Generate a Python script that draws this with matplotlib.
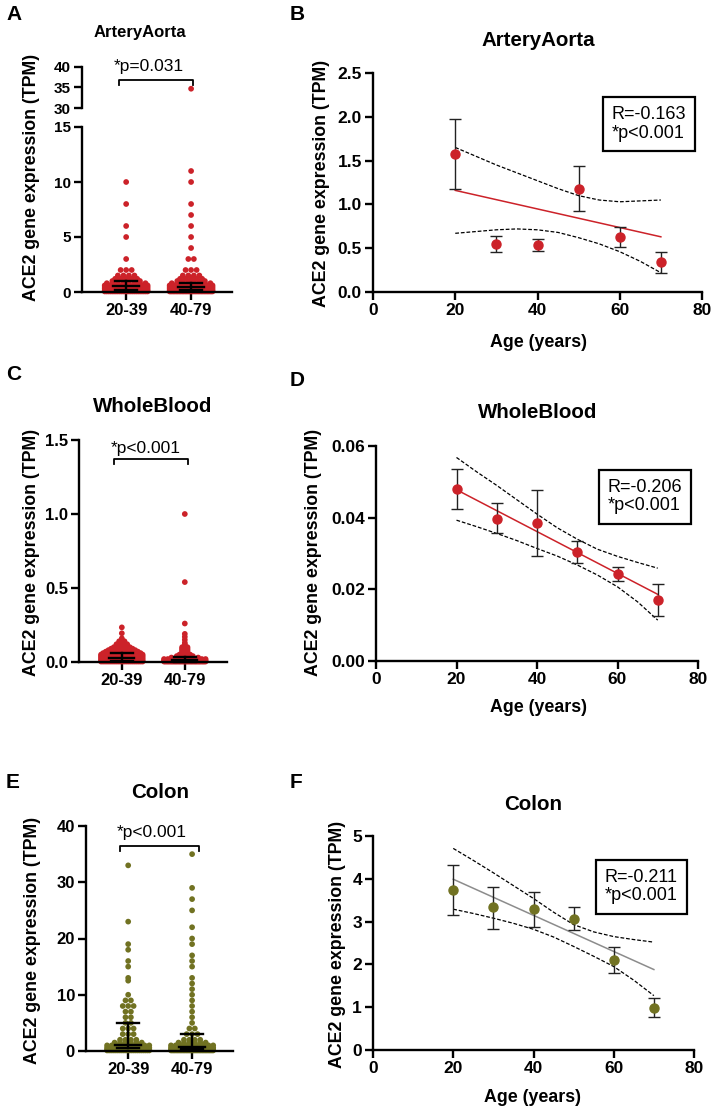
import numpy as np
import matplotlib
matplotlib.use("Agg")
import matplotlib.pyplot as plt

plt.rcParams['font.family'] = ['Liberation Sans', 'DejaVu Sans']

# ── data ────────────────────────────────────────────────────────────────
groups = ['20-39', '40-79']
ages = [20, 30, 40, 50, 60, 70]
band_x = [20, 25, 30, 35, 40, 45, 50, 55, 60, 65, 70]

# A: ArteryAorta scatter (value, count)
aorta_young_vals = [10, 8, 6, 5, 3, 2, 1.5, 1.2, 1.0, 0.8, 0.6, 0.45, 0.3, 0.15, 0.05]
aorta_young_cnt = [1, 1, 1, 1, 1, 3, 4, 5, 6, 8, 10, 14, 18, 22, 24]
aorta_old_vals = [34.7, 11, 10, 8, 7, 6, 5, 4, 3, 2, 1.5, 1.2, 1.0, 0.8, 0.6, 0.45, 0.3, 0.15, 0.05]
aorta_old_cnt = [1, 1, 1, 1, 1, 1, 1, 1, 2, 3, 4, 5, 6, 8, 10, 14, 20, 26, 30]
aorta_q = [(0.15, 0.58, 1.03), (0.15, 0.45, 0.82)]

# C: WholeBlood scatter
blood_young_vals = [0.234, 0.194, 0.16, 0.15, 0.14, 0.13, 0.12, 0.11, 0.10, 0.09, 0.08, 0.07,
                    0.06, 0.05, 0.04, 0.03, 0.02, 0.01, 0.003]
blood_young_cnt = [1, 1, 1, 1, 2, 2, 3, 3, 4, 5, 6, 7, 8, 9, 10, 12, 16, 20, 22]
blood_old_vals = [1.0, 0.54, 0.26, 0.19, 0.17, 0.15, 0.13, 0.12, 0.11, 0.10, 0.09, 0.08, 0.07,
                  0.06, 0.05, 0.04, 0.03, 0.02, 0.01, 0.003]
blood_old_cnt = [1, 1, 1, 1, 1, 1, 1, 1, 1, 2, 2, 2, 2, 2, 3, 4, 6, 12, 24, 32]
blood_q = [(0.009, 0.03, 0.063), (0.002, 0.015, 0.032)]

# E: Colon scatter
colon_young_vals = [33, 23, 19, 18, 16, 15, 13, 12.5, 10, 9, 8, 7, 6, 5, 4, 3, 2, 1.5, 1.0, 0.6, 0.3, 0.1]
colon_young_cnt = [1, 1, 1, 1, 1, 1, 1, 1, 1, 2, 3, 2, 2, 2, 3, 3, 4, 6, 10, 14, 18, 22]
colon_old_vals = [35, 29, 27, 25, 22, 20, 19, 17, 16, 15, 13, 12, 11, 10, 9, 8, 7, 6, 5, 4, 3,
                  2, 1.5, 1.0, 0.6, 0.3, 0.1]
colon_old_cnt = [1, 1, 1, 1, 1, 1, 1, 1, 1, 1, 1, 1, 1, 1, 1, 1, 1, 1, 1, 2, 3, 4, 6, 10, 16, 24, 30]
colon_q = [(0.45, 1.0, 5.03), (0.3, 0.7, 3.08)]

# B: ArteryAorta by age
aorta_mean = [1.58, 0.55, 0.54, 1.18, 0.63, 0.34]
aorta_lo = [1.18, 0.46, 0.47, 0.92, 0.51, 0.22]
aorta_hi = [1.97, 0.64, 0.61, 1.44, 0.74, 0.46]
aorta_fit = [1.16, 0.63]
aorta_ci_up = [1.65, 1.55, 1.45, 1.36, 1.27, 1.18, 1.10, 1.05, 1.03, 1.04, 1.05]
aorta_ci_dn = [0.67, 0.69, 0.71, 0.72, 0.71, 0.68, 0.62, 0.55, 0.46, 0.35, 0.22]

# D: WholeBlood by age
blood_mean = [0.0479, 0.0397, 0.0385, 0.0304, 0.0244, 0.0170]
blood_lo = [0.0423, 0.0356, 0.0294, 0.0274, 0.0223, 0.0126]
blood_hi = [0.0536, 0.0440, 0.0477, 0.0336, 0.0261, 0.0216]
blood_fit = [0.0478, 0.0186]
blood_ci_up = [0.0568, 0.0528, 0.0490, 0.0450, 0.0410, 0.0372, 0.0340, 0.0312, 0.0292, 0.0275, 0.0259]
blood_ci_dn = [0.0393, 0.0375, 0.0356, 0.0336, 0.0314, 0.0293, 0.0268, 0.0240, 0.0207, 0.0165, 0.0114]

# F: Colon by age
colon_mean = [3.74, 3.33, 3.29, 3.07, 2.10, 0.98]
colon_lo = [3.15, 2.83, 2.88, 2.80, 1.81, 0.76]
colon_hi = [4.33, 3.82, 3.70, 3.35, 2.41, 1.21]
colon_fit = [3.99, 1.88]
colon_ci_up = [4.71, 4.43, 4.14, 3.84, 3.54, 3.22, 2.93, 2.76, 2.65, 2.58, 2.52]
colon_ci_dn = [3.29, 3.19, 3.08, 2.96, 2.82, 2.64, 2.42, 2.19, 1.95, 1.63, 1.27]

RED = '#cc2229'
OLIVE = '#717222'
YLAB = 'ACE2 gene expression (TPM)'

W, H = 711, 1107
fig = plt.figure(figsize=(W / 100, H / 100), dpi=100)


def px_axes(l, t, r, b):
    return fig.add_axes([l / W, 1 - b / H, (r - l) / W, (b - t) / H])


def ftext(x, y, s, **kw):
    return fig.text(x / W, 1 - y / H, s, **kw)


def style(ax, fs):
    for s in ['top', 'right']:
        ax.spines[s].set_visible(False)
    for s in ['left', 'bottom']:
        ax.spines[s].set_linewidth(1.7)
    ax.tick_params(direction='out', length=6, width=1.7, labelsize=fs, pad=2)
    for lab in ax.get_xticklabels() + ax.get_yticklabels():
        lab.set_fontweight('bold')


def swarm(ax, center, vals, counts, color, dx, maxw):
    xs, ys = [], []
    for v, n in zip(vals, counts):
        step = min(dx, 2 * maxw / (n - 1)) if n > 1 else 0
        offs = (np.arange(n) - (n - 1) / 2) * step
        xs += list(center + offs)
        ys += [v] * n
    ax.scatter(xs, ys, s=17, color=color, edgecolor='none', clip_on=False, zorder=2)


def quartiles(ax, center, q):
    lo, med, hi = q
    kw = dict(color='k', lw=1.7, zorder=3, clip_on=False)
    ax.plot([center - 0.2, center + 0.2], [med, med], **kw)
    ax.plot([center - 0.17, center + 0.17], [lo, lo], **kw)
    ax.plot([center - 0.17, center + 0.17], [hi, hi], **kw)
    ax.plot([center, center], [lo, hi], **kw)


def bracket(ax, x0, x1, y, d):
    ax.plot([x0, x0, x1, x1], [y - d, y, y, y - d], color='k', lw=1.3, clip_on=False)


def dot_panel(ax, data, color, xlim, ylim, yticks, fs_y):
    for i, (vals, cnt, q) in enumerate(data):
        swarm(ax, i, vals, cnt, color, 0.085, 0.33)
        quartiles(ax, i, q)
    ax.set_xlim(*xlim)
    ax.set_ylim(*ylim)
    ax.set_yticks(yticks)
    ax.set_xticks([0, 1])
    ax.set_xticklabels(groups)
    style(ax, 12)
    ax.tick_params(axis='y', labelsize=fs_y)


def age_panel(ax, mean, lo, hi, fit, ci_up, ci_dn, color, line_color, ylim, yticks, fmt):
    ax.plot(band_x, ci_up, color='k', ls=(0, (3, 1.5)), lw=0.9)
    ax.plot(band_x, ci_dn, color='k', ls=(0, (3, 1.5)), lw=0.9)
    ax.plot([ages[0], ages[-1]], fit, color=line_color, lw=1.1)
    m = np.array(mean)
    ax.errorbar(ages, mean, yerr=[m - np.array(lo), np.array(hi) - m], fmt='none',
                ecolor='#222222', elinewidth=1.0, capsize=4, capthick=1.0)
    ax.plot(ages, mean, 'o', color=color, ms=6.5, zorder=4)
    ax.set_xlim(0, 80)
    ax.set_ylim(*ylim)
    ax.set_xticks([0, 20, 40, 60, 80])
    ax.set_yticks(yticks)
    ax.set_yticklabels([fmt.format(v) for v in yticks])
    style(ax, 12.5)


def stat_box(ax, x, y, r):
    ax.text(x, y, 'R=' + r + '\n*p<0.001', ha='center', va='center', fontsize=13,
            multialignment='left', linespacing=1.15,
            bbox=dict(boxstyle='square,pad=0.5', fc='white', ec='black', lw=1.6))


# ── A : ArteryAorta (broken axis) ───────────────────────────────────────
xl_a = (-0.68, 1.63)
axA = px_axes(82, 127, 232, 292)
dot_panel(axA, [(aorta_young_vals, aorta_young_cnt, aorta_q[0]),
                (aorta_old_vals, aorta_old_cnt, aorta_q[1])],
          RED, xl_a, (0, 15), [0, 5, 10, 15], 11)
axA2 = px_axes(82, 67, 232, 108)
axA2.scatter([1], [aorta_old_vals[0]], s=17, color=RED, edgecolor='none')
axA2.set_xlim(*xl_a)
axA2.set_ylim(30, 40)
axA2.set_yticks([30, 35, 40])
axA2.set_xticks([])
axA2.spines['bottom'].set_visible(False)
style(axA2, 11)
bracket(axA2, -0.11, 1.03, 36.8, 1.2)
ftext(149, 66, '*p=0.031', ha='center', va='center', fontsize=12.5)
ftext(140, 33, 'ArteryAorta', ha='center', va='center', fontsize=12, fontweight='bold')
ftext(32, 177, YLAB, ha='center', va='center', rotation=90, fontsize=12.8, fontweight='bold')
ftext(6, 15, 'A', ha='left', va='center', fontsize=15, fontweight='bold')

# ── B : ArteryAorta by age ──────────────────────────────────────────────
axB = px_axes(373, 73, 702, 292)
age_panel(axB, aorta_mean, aorta_lo, aorta_hi, aorta_fit, aorta_ci_up, aorta_ci_dn,
          RED, RED, (0, 2.5), [0, 0.5, 1.0, 1.5, 2.0, 2.5], '{:.1f}')
stat_box(axB, 67.1, 1.92, '-0.163')
ftext(538, 40, 'ArteryAorta', ha='center', va='center', fontsize=14.8, fontweight='bold')
ftext(322, 183, YLAB, ha='center', va='center', rotation=90, fontsize=12.8, fontweight='bold')
ftext(538, 343, 'Age (years)', ha='center', va='center', fontsize=12.8, fontweight='bold')
ftext(290, 15, 'B', ha='left', va='center', fontsize=15, fontweight='bold')

# ── C : WholeBlood ──────────────────────────────────────────────────────
axC = px_axes(79, 440, 227, 662)
dot_panel(axC, [(blood_young_vals, blood_young_cnt, blood_q[0]),
                (blood_old_vals, blood_old_cnt, blood_q[1])],
          RED, (-0.68, 1.67), (0, 1.5), [0, 0.5, 1.0, 1.5], 12)
axC.set_yticklabels(['0.0', '0.5', '1.0', '1.5'])
for lab in axC.get_yticklabels():
    lab.set_fontweight('bold')
bracket(axC, -0.13, 1.05, 1.37, 0.034)
ftext(146, 448, '*p<0.001', ha='center', va='center', fontsize=12.5)
ftext(153, 407, 'WholeBlood', ha='center', va='center', fontsize=14.8, fontweight='bold')
ftext(32, 552, YLAB, ha='center', va='center', rotation=90, fontsize=12.8, fontweight='bold')
ftext(6, 375, 'C', ha='left', va='center', fontsize=15, fontweight='bold')

# ── D : WholeBlood by age ───────────────────────────────────────────────
axD = px_axes(376, 446, 698, 661)
age_panel(axD, blood_mean, blood_lo, blood_hi, blood_fit, blood_ci_up, blood_ci_dn,
          RED, RED, (0, 0.06), [0, 0.02, 0.04, 0.06], '{:.2f}')
stat_box(axD, 66.8, 0.0459, '-0.206')
ftext(538, 412, 'WholeBlood', ha='center', va='center', fontsize=14.8, fontweight='bold')
ftext(314, 552, YLAB, ha='center', va='center', rotation=90, fontsize=12.8, fontweight='bold')
ftext(538, 707, 'Age (years)', ha='center', va='center', fontsize=12.8, fontweight='bold')
ftext(290, 381, 'D', ha='left', va='center', fontsize=15, fontweight='bold')

# ── E : Colon ───────────────────────────────────────────────────────────
axE = px_axes(86, 826, 233, 1051)
dot_panel(axE, [(colon_young_vals, colon_young_cnt, colon_q[0]),
                (colon_old_vals, colon_old_cnt, colon_q[1])],
          OLIVE, (-0.66, 1.64), (0, 40), [0, 10, 20, 30, 40], 12)
bracket(axE, -0.125, 1.11, 36.4, 0.9)
ftext(152, 832, '*p<0.001', ha='center', va='center', fontsize=12.5)
ftext(160, 793, 'Colon', ha='center', va='center', fontsize=14.8, fontweight='bold')
ftext(33, 940, YLAB, ha='center', va='center', rotation=90, fontsize=12.8, fontweight='bold')
ftext(6, 783, 'E', ha='left', va='center', fontsize=15, fontweight='bold')

# ── F : Colon by age ────────────────────────────────────────────────────
axF = px_axes(373, 836, 694, 1050)
age_panel(axF, colon_mean, colon_lo, colon_hi, colon_fit, colon_ci_up, colon_ci_dn,
          OLIVE, '#8c8c8c', (0, 5), [0, 1, 2, 3, 4, 5], '{:.0f}')
stat_box(axF, 66.8, 3.82, '-0.211')
ftext(533, 804, 'Colon', ha='center', va='center', fontsize=14.8, fontweight='bold')
ftext(337, 944, YLAB, ha='center', va='center', rotation=90, fontsize=12.8, fontweight='bold')
ftext(533, 1097, 'Age (years)', ha='center', va='center', fontsize=12.8, fontweight='bold')
ftext(290, 783, 'F', ha='left', va='center', fontsize=15, fontweight='bold')

fig.savefig('out.png', dpi=100)
